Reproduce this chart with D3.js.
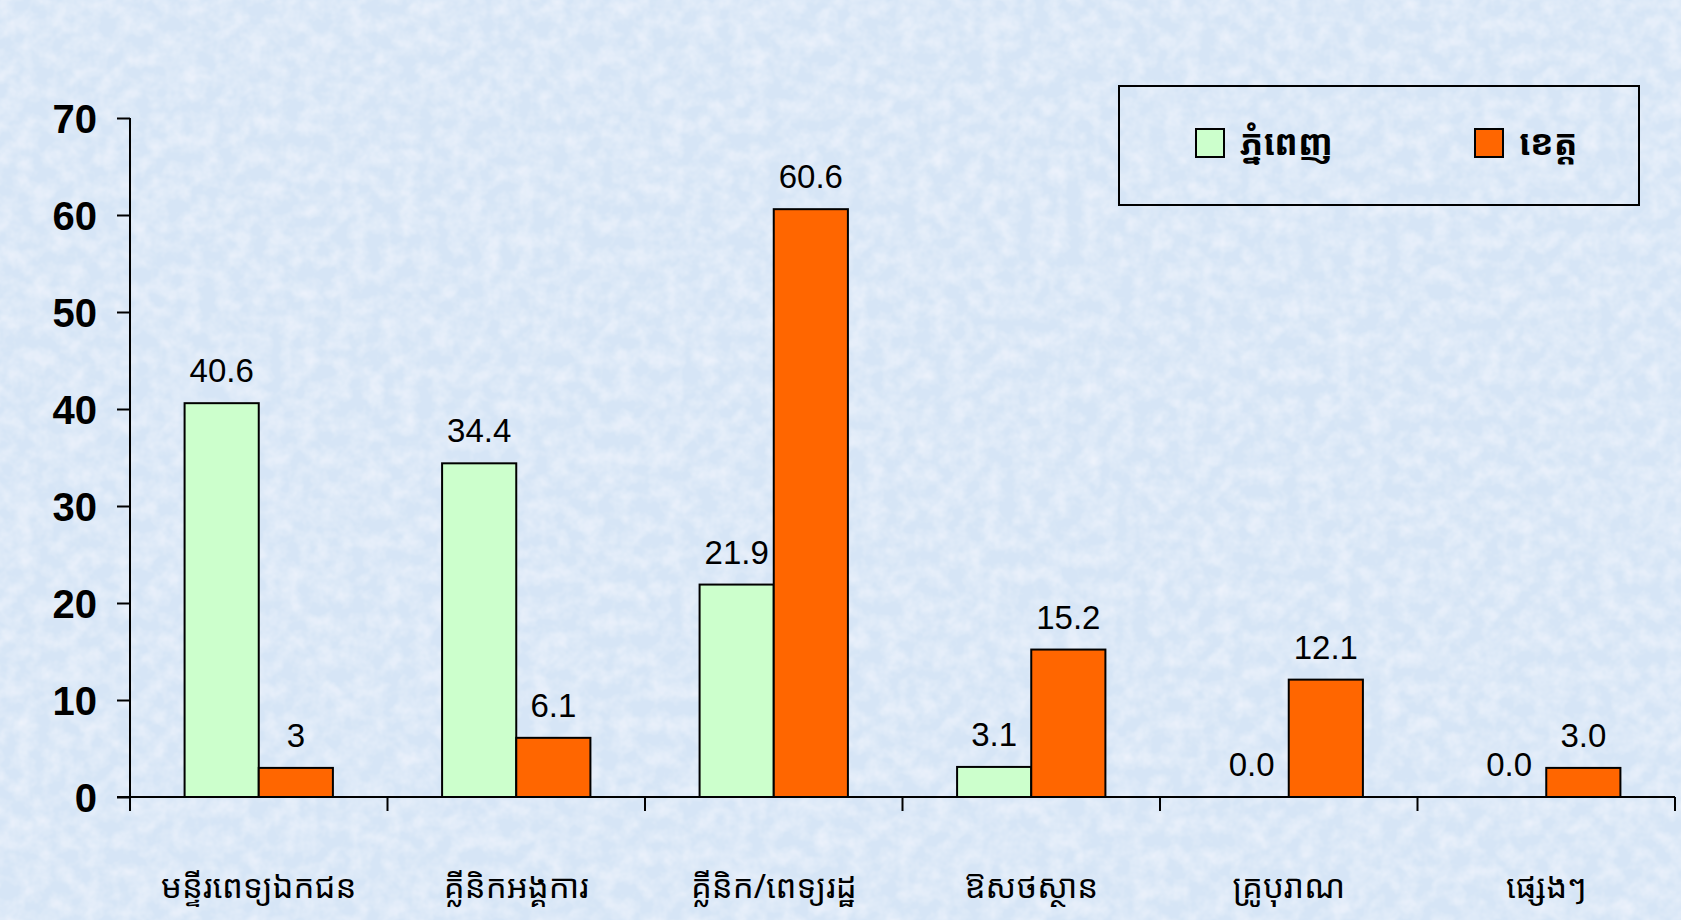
<!DOCTYPE html>
<html>
<head>
<meta charset="utf-8">
<script src="https://cdn.jsdelivr.net/npm/d3@7/dist/d3.min.js"></script>
<style>
  body { margin: 0; padding: 0; overflow: hidden; }
  .khmer { font-family: "Noto Sans Khmer", "Noto Serif Khmer", "Khmer OS", "Khmer OS System", sans-serif; }
</style>
</head>
<body>
<div id="chart"></div>
<script>
// Chart data
let categories = ['មន្ទីរពេទ្យឯកជន', 'គ្លីនិកអង្គការ', 'គ្លីនិក/ពេទ្យរដ្ឋ', 'ឱសថស្ថាន', 'គ្រូបុរាណ', 'ផ្សេងៗ'];
let seriesNames = ['ភ្នំពេញ', 'ខេត្ត'];
let phnomPenh = [40.6, 34.4, 21.9, 3.1, 0.0, 0.0];
let province = [3, 6.1, 60.6, 15.2, 12.1, 3.0];
let phnomPenhLabels = ['40.6', '34.4', '21.9', '3.1', '0.0', '0.0'];
let provinceLabels = ['3', '6.1', '60.6', '15.2', '12.1', '3.0'];
let yTicks = [0, 10, 20, 30, 40, 50, 60, 70];

let colors = ['#CCFFCC', '#FF6600'];

// Chart dimensions
let W = 1681, H = 920;
let margin = { top: 118, right: 6, bottom: 123, left: 130 };
let width = W - margin.left - margin.right;
let height = H - margin.top - margin.bottom;

let svg = d3.select('#chart')
    .append('svg')
    .attr('width', W)
    .attr('height', H);

// Textured light blue background
let defs = svg.append('defs');
let filter = defs.append('filter')
    .attr('id', 'paper')
    .attr('x', 0).attr('y', 0)
    .attr('width', '100%').attr('height', '100%');
filter.append('feTurbulence')
    .attr('type', 'fractalNoise')
    .attr('baseFrequency', 0.06)
    .attr('numOctaves', 3)
    .attr('seed', 11)
    .attr('result', 'noise');
filter.append('feColorMatrix')
    .attr('in', 'noise')
    .attr('type', 'matrix')
    .attr('values', '0 0 0 0 0.97  0 0 0 0 0.97  0 0 0 0 1  0.9 0 0 0 -0.3')
    .attr('result', 'spots');
filter.append('feComposite')
    .attr('in', 'spots')
    .attr('in2', 'SourceGraphic')
    .attr('operator', 'over');

svg.append('rect')
    .attr('width', W).attr('height', H)
    .attr('fill', '#d6e5f6')
    .attr('filter', 'url(#paper)');

let g = svg.append('g')
    .attr('transform', 'translate(' + margin.left + ',' + margin.top + ')');

// Scales
let xScale = d3.scaleBand()
    .domain(categories)
    .range([0, width])
    .paddingInner(0)
    .paddingOuter(0);

let barWidth = xScale.bandwidth() * 0.288;

let xSub = d3.scaleBand()
    .domain(seriesNames)
    .range([xScale.bandwidth() / 2 - barWidth, xScale.bandwidth() / 2 + barWidth]);

let yScale = d3.scaleLinear()
    .domain([0, 70])
    .range([height, 0]);

// Bars
let values = [phnomPenh, province];
let labels = [phnomPenhLabels, provinceLabels];

seriesNames.forEach(function (s, si) {
    let grp = g.append('g').attr('class', 'series');
    grp.selectAll('rect')
        .data(categories)
        .enter().append('rect')
        .filter(function (c, i) { return values[si][i] > 0; })
        .attr('x', function (c) { return xScale(c) + xSub(s); })
        .attr('y', function (c, i) { return yScale(values[si][i]); })
        .attr('width', xSub.bandwidth())
        .attr('height', function (c, i) { return height - yScale(values[si][i]); })
        .attr('fill', colors[si])
        .attr('stroke', '#000')
        .attr('stroke-width', 2);

    grp.selectAll('text')
        .data(categories)
        .enter().append('text')
        .attr('x', function (c) { return xScale(c) + xSub(s) + xSub.bandwidth() / 2; })
        .attr('y', function (c, i) { return yScale(values[si][i]) - 21; })
        .attr('text-anchor', 'middle')
        .style('font-family', 'Arial, "Liberation Sans", sans-serif')
        .style('font-size', '33px')
        .style('fill', '#000')
        .text(function (c, i) { return labels[si][i]; });
});

// Y axis
let yAxis = d3.axisLeft(yScale).tickValues(yTicks).tickSize(13).tickPadding(20).tickFormat(d3.format('d'));
let yNode = g.append('g').attr('class', 'y axis').call(yAxis);
yNode.select('.domain').attr('stroke', '#000').attr('stroke-width', 2).attr('d', 'M0,0V' + height);
yNode.selectAll('.tick line').attr('stroke', '#000').attr('stroke-width', 2);
yNode.selectAll('text')
    .style('font-family', 'Arial, "Liberation Sans", sans-serif')
    .style('font-size', '40px')
    .style('font-weight', 'bold')
    .style('fill', '#000')
    .attr('dy', '0.36em');

// X axis
let xAxis = d3.axisBottom(xScale).tickSize(0).tickPadding(78);
let xNode = g.append('g')
    .attr('class', 'x axis')
    .attr('transform', 'translate(0,' + height + ')')
    .call(xAxis);
xNode.select('.domain').attr('stroke', '#000').attr('stroke-width', 2).attr('d', 'M-13,0H' + width);
xNode.selectAll('text')
    .attr('class', 'khmer')
    .style('font-size', '33px')
    .style('fill', '#000');

// Category boundary ticks
let boundaries = categories.map(function (c) { return xScale(c); }).concat([width]);
xNode.selectAll('line.sep')
    .data(boundaries)
    .enter().append('line')
    .attr('class', 'sep')
    .attr('x1', function (d) { return d; })
    .attr('x2', function (d) { return d; })
    .attr('y1', 0)
    .attr('y2', 14)
    .attr('stroke', '#000')
    .attr('stroke-width', 2);

// Legend
let legend = svg.append('g').attr('transform', 'translate(1119,86)');
legend.append('rect')
    .attr('width', 520).attr('height', 119)
    .attr('fill', 'none')
    .attr('stroke', '#000')
    .attr('stroke-width', 2);

let legendX = [77, 356];
seriesNames.forEach(function (s, i) {
    legend.append('rect')
        .attr('x', legendX[i]).attr('y', 43)
        .attr('width', 28).attr('height', 28)
        .attr('fill', colors[i])
        .attr('stroke', '#000')
        .attr('stroke-width', 2);
    legend.append('text')
        .attr('class', 'khmer')
        .attr('x', legendX[i] + 44)
        .attr('y', 69)
        .style('font-size', '35px')
        .style('font-weight', 'bold')
        .style('fill', '#000')
        .text(s);
});
</script>
</body>
</html>
